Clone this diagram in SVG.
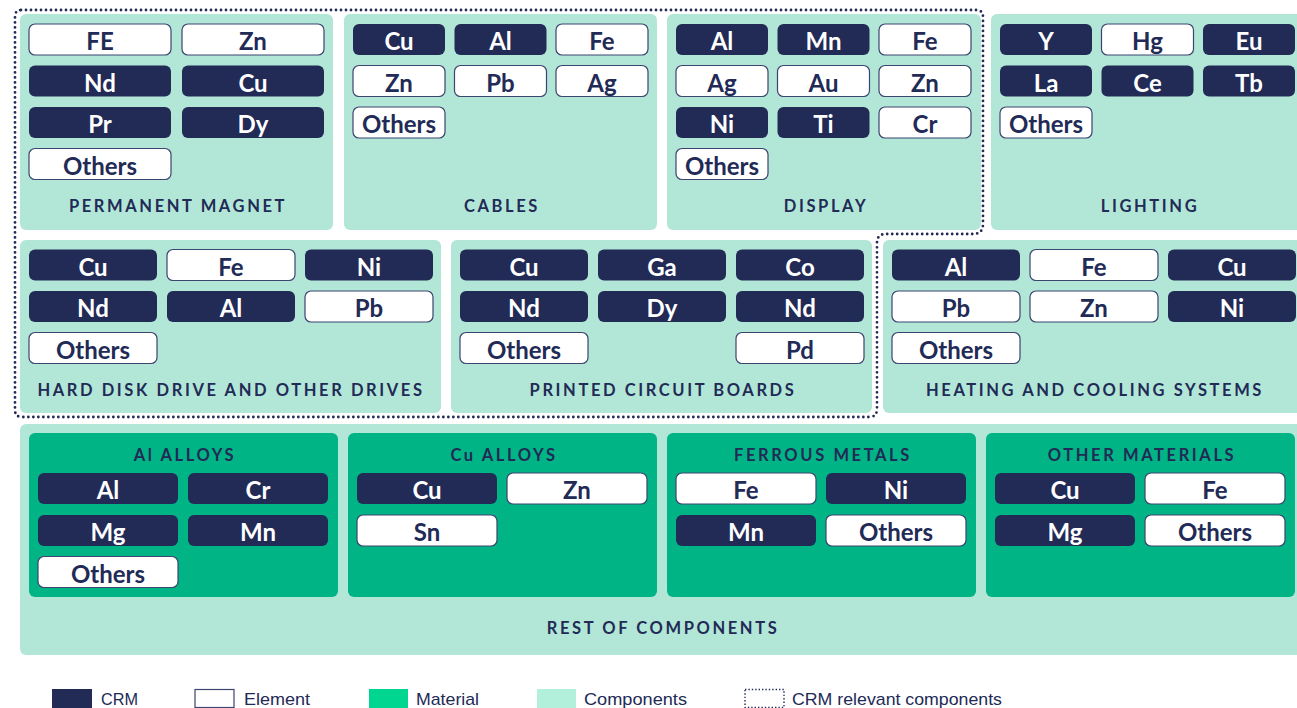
<svg xmlns="http://www.w3.org/2000/svg" width="1297" height="708" viewBox="0 0 1297 708">
  <style>
    .panel { fill: #b2e7d7; }
    .mat { fill: #00b485; }
    .crm { fill: #222a56; }
    .el { fill: #ffffff; stroke: #3c4470; stroke-width: 1.2; }
    .tc { font-family: Lato, "Liberation Sans", sans-serif; font-weight: 700; font-size: 24px; text-anchor: middle; fill: #ffffff; }
    .te { font-family: Lato, "Liberation Sans", sans-serif; font-weight: 700; font-size: 24px; text-anchor: middle; fill: #222a56; }
    .lbl { font-family: Lato, "Liberation Sans", sans-serif; font-weight: 700; font-size: 16.5px; letter-spacing: 2.6px; text-anchor: middle; fill: #222a56; }
    .leg { font-family: "Liberation Sans", sans-serif; font-size: 17px; fill: #222a56; }
    .dots { fill: none; stroke: #222a56; stroke-width: 2.8; stroke-linecap: round; stroke-dasharray: 0 5; }
  </style>

  <rect width="1297" height="708" fill="#ffffff"/>

  <!-- Row 1 components -->
  <g id="permanent-magnet">
    <rect class="panel" x="20" y="14" width="313" height="216" rx="6"/>
    <rect class="el" x="29" y="24" width="142" height="31" rx="6"/><text class="te" x="100" y="50">FE</text>
    <rect class="el" x="182" y="24" width="142" height="31" rx="6"/><text class="te" x="253" y="50">Zn</text>
    <rect class="crm" x="29" y="65.5" width="142" height="31" rx="6"/><text class="tc" x="100" y="91.5">Nd</text>
    <rect class="crm" x="182" y="65.5" width="142" height="31" rx="6"/><text class="tc" x="253" y="91.5">Cu</text>
    <rect class="crm" x="29" y="107" width="142" height="31" rx="6"/><text class="tc" x="100" y="133">Pr</text>
    <rect class="crm" x="182" y="107" width="142" height="31" rx="6"/><text class="tc" x="253" y="133">Dy</text>
    <rect class="el" x="29" y="148.5" width="142" height="31" rx="6"/><text class="te" x="100" y="174.5">Others</text>
    <text class="lbl" x="178" y="212">PERMANENT MAGNET</text>
  </g>

  <g id="cables">
    <rect class="panel" x="344" y="14" width="313" height="216" rx="6"/>
    <rect class="crm" x="353" y="24" width="92" height="31" rx="6"/><text class="tc" x="399" y="50">Cu</text>
    <rect class="crm" x="454.5" y="24" width="92" height="31" rx="6"/><text class="tc" x="500.5" y="50">Al</text>
    <rect class="el" x="556" y="24" width="92" height="31" rx="6"/><text class="te" x="602" y="50">Fe</text>
    <rect class="el" x="353" y="65.5" width="92" height="31" rx="6"/><text class="te" x="399" y="91.5">Zn</text>
    <rect class="el" x="454.5" y="65.5" width="92" height="31" rx="6"/><text class="te" x="500.5" y="91.5">Pb</text>
    <rect class="el" x="556" y="65.5" width="92" height="31" rx="6"/><text class="te" x="602" y="91.5">Ag</text>
    <rect class="el" x="353" y="107" width="92" height="31" rx="6"/><text class="te" x="399" y="133">Others</text>
    <text class="lbl" x="502" y="212">CABLES</text>
  </g>

  <g id="display">
    <rect class="panel" x="667" y="14" width="314" height="216" rx="6"/>
    <rect class="crm" x="676" y="24" width="92" height="31" rx="6"/><text class="tc" x="722" y="50">Al</text>
    <rect class="crm" x="777.5" y="24" width="92" height="31" rx="6"/><text class="tc" x="823.5" y="50">Mn</text>
    <rect class="el" x="879" y="24" width="92" height="31" rx="6"/><text class="te" x="925" y="50">Fe</text>
    <rect class="el" x="676" y="65.5" width="92" height="31" rx="6"/><text class="te" x="722" y="91.5">Ag</text>
    <rect class="el" x="777.5" y="65.5" width="92" height="31" rx="6"/><text class="te" x="823.5" y="91.5">Au</text>
    <rect class="el" x="879" y="65.5" width="92" height="31" rx="6"/><text class="te" x="925" y="91.5">Zn</text>
    <rect class="crm" x="676" y="107" width="92" height="31" rx="6"/><text class="tc" x="722" y="133">Ni</text>
    <rect class="crm" x="777.5" y="107" width="92" height="31" rx="6"/><text class="tc" x="823.5" y="133">Ti</text>
    <rect class="el" x="879" y="107" width="92" height="31" rx="6"/><text class="te" x="925" y="133">Cr</text>
    <rect class="el" x="676" y="148.5" width="92" height="31" rx="6"/><text class="te" x="722" y="174.5">Others</text>
    <text class="lbl" x="826" y="212">DISPLAY</text>
  </g>

  <g id="lighting">
    <rect class="panel" x="991" y="14" width="314" height="216" rx="6"/>
    <rect class="crm" x="1000" y="24" width="92" height="31" rx="6"/><text class="tc" x="1046" y="50">Y</text>
    <rect class="el" x="1101.5" y="24" width="92" height="31" rx="6"/><text class="te" x="1147.5" y="50">Hg</text>
    <rect class="crm" x="1203" y="24" width="92" height="31" rx="6"/><text class="tc" x="1249" y="50">Eu</text>
    <rect class="crm" x="1000" y="65.5" width="92" height="31" rx="6"/><text class="tc" x="1046" y="91.5">La</text>
    <rect class="crm" x="1101.5" y="65.5" width="92" height="31" rx="6"/><text class="tc" x="1147.5" y="91.5">Ce</text>
    <rect class="crm" x="1203" y="65.5" width="92" height="31" rx="6"/><text class="tc" x="1249" y="91.5">Tb</text>
    <rect class="el" x="1000" y="107" width="92" height="31" rx="6"/><text class="te" x="1046" y="133">Others</text>
    <text class="lbl" x="1150" y="212">LIGHTING</text>
  </g>

  <!-- Row 2 components -->
  <g id="hard-disk-drive">
    <rect class="panel" x="20" y="240" width="421" height="173" rx="6"/>
    <rect class="crm" x="29" y="249.5" width="128" height="31" rx="6"/><text class="tc" x="93" y="275.5">Cu</text>
    <rect class="el" x="167" y="249.5" width="128" height="31" rx="6"/><text class="te" x="231" y="275.5">Fe</text>
    <rect class="crm" x="305" y="249.5" width="128" height="31" rx="6"/><text class="tc" x="369" y="275.5">Ni</text>
    <rect class="crm" x="29" y="291" width="128" height="31" rx="6"/><text class="tc" x="93" y="317">Nd</text>
    <rect class="crm" x="167" y="291" width="128" height="31" rx="6"/><text class="tc" x="231" y="317">Al</text>
    <rect class="el" x="305" y="291" width="128" height="31" rx="6"/><text class="te" x="369" y="317">Pb</text>
    <rect class="el" x="29" y="332.5" width="128" height="31" rx="6"/><text class="te" x="93" y="358.5">Others</text>
    <text class="lbl" x="231" y="396">HARD DISK DRIVE AND OTHER DRIVES</text>
  </g>

  <g id="printed-circuit-boards">
    <rect class="panel" x="451" y="240" width="421" height="173" rx="6"/>
    <rect class="crm" x="460" y="249.5" width="128" height="31" rx="6"/><text class="tc" x="524" y="275.5">Cu</text>
    <rect class="crm" x="598" y="249.5" width="128" height="31" rx="6"/><text class="tc" x="662" y="275.5">Ga</text>
    <rect class="crm" x="736" y="249.5" width="128" height="31" rx="6"/><text class="tc" x="800" y="275.5">Co</text>
    <rect class="crm" x="460" y="291" width="128" height="31" rx="6"/><text class="tc" x="524" y="317">Nd</text>
    <rect class="crm" x="598" y="291" width="128" height="31" rx="6"/><text class="tc" x="662" y="317">Dy</text>
    <rect class="crm" x="736" y="291" width="128" height="31" rx="6"/><text class="tc" x="800" y="317">Nd</text>
    <rect class="el" x="460" y="332.5" width="128" height="31" rx="6"/><text class="te" x="524" y="358.5">Others</text>
    <rect class="el" x="736" y="332.5" width="128" height="31" rx="6"/><text class="te" x="800" y="358.5">Pd</text>
    <text class="lbl" x="663" y="396">PRINTED CIRCUIT BOARDS</text>
  </g>

  <g id="heating-cooling">
    <rect class="panel" x="883" y="240" width="422" height="173" rx="6"/>
    <rect class="crm" x="892" y="249.5" width="128" height="31" rx="6"/><text class="tc" x="956" y="275.5">Al</text>
    <rect class="el" x="1030" y="249.5" width="128" height="31" rx="6"/><text class="te" x="1094" y="275.5">Fe</text>
    <rect class="crm" x="1168" y="249.5" width="128" height="31" rx="6"/><text class="tc" x="1232" y="275.5">Cu</text>
    <rect class="el" x="892" y="291" width="128" height="31" rx="6"/><text class="te" x="956" y="317">Pb</text>
    <rect class="el" x="1030" y="291" width="128" height="31" rx="6"/><text class="te" x="1094" y="317">Zn</text>
    <rect class="crm" x="1168" y="291" width="128" height="31" rx="6"/><text class="tc" x="1232" y="317">Ni</text>
    <rect class="el" x="892" y="332.5" width="128" height="31" rx="6"/><text class="te" x="956" y="358.5">Others</text>
    <text class="lbl" x="1095" y="396">HEATING AND COOLING SYSTEMS</text>
  </g>

  <!-- Row 3: rest of components with material groups -->
  <g id="rest-of-components">
    <rect class="panel" x="20" y="424" width="1285" height="231" rx="6"/>
    <text class="lbl" x="663" y="634">REST OF COMPONENTS</text>
  </g>

  <g id="al-alloys">
    <rect class="mat" x="29" y="433" width="309" height="164" rx="6"/>
    <text class="lbl" x="185" y="461">Al ALLOYS</text>
    <rect class="crm" x="38" y="473" width="140" height="31" rx="6"/><text class="tc" x="108" y="499">Al</text>
    <rect class="crm" x="188" y="473" width="140" height="31" rx="6"/><text class="tc" x="258" y="499">Cr</text>
    <rect class="crm" x="38" y="515" width="140" height="31" rx="6"/><text class="tc" x="108" y="541">Mg</text>
    <rect class="crm" x="188" y="515" width="140" height="31" rx="6"/><text class="tc" x="258" y="541">Mn</text>
    <rect class="el" x="38" y="556.5" width="140" height="31" rx="6"/><text class="te" x="108" y="582.5">Others</text>
  </g>

  <g id="cu-alloys">
    <rect class="mat" x="348" y="433" width="309" height="164" rx="6"/>
    <text class="lbl" x="504" y="461">Cu ALLOYS</text>
    <rect class="crm" x="357" y="473" width="140" height="31" rx="6"/><text class="tc" x="427" y="499">Cu</text>
    <rect class="el" x="507" y="473" width="140" height="31" rx="6"/><text class="te" x="577" y="499">Zn</text>
    <rect class="el" x="357" y="515" width="140" height="31" rx="6"/><text class="te" x="427" y="541">Sn</text>
  </g>

  <g id="ferrous-metals">
    <rect class="mat" x="667" y="433" width="309" height="164" rx="6"/>
    <text class="lbl" x="823" y="461">FERROUS METALS</text>
    <rect class="el" x="676" y="473" width="140" height="31" rx="6"/><text class="te" x="746" y="499">Fe</text>
    <rect class="crm" x="826" y="473" width="140" height="31" rx="6"/><text class="tc" x="896" y="499">Ni</text>
    <rect class="crm" x="676" y="515" width="140" height="31" rx="6"/><text class="tc" x="746" y="541">Mn</text>
    <rect class="el" x="826" y="515" width="140" height="31" rx="6"/><text class="te" x="896" y="541">Others</text>
  </g>

  <g id="other-materials">
    <rect class="mat" x="986" y="433" width="309" height="164" rx="6"/>
    <text class="lbl" x="1142" y="461">OTHER MATERIALS</text>
    <rect class="crm" x="995" y="473" width="140" height="31" rx="6"/><text class="tc" x="1065" y="499">Cu</text>
    <rect class="el" x="1145" y="473" width="140" height="31" rx="6"/><text class="te" x="1215" y="499">Fe</text>
    <rect class="crm" x="995" y="515" width="140" height="31" rx="6"/><text class="tc" x="1065" y="541">Mg</text>
    <rect class="el" x="1145" y="515" width="140" height="31" rx="6"/><text class="te" x="1215" y="541">Others</text>
  </g>

  <!-- Dotted outline around the CRM relevant components -->
  <g id="connectors">
    <path class="dots" d="M 21,10 H 976 Q 983,10 983,17 V 224 Q 983,234 973,234 H 886 Q 877,234 877,243 V 409 Q 877,417 869,417 H 22 Q 15,417 15,410 V 17 Q 15,10 21,10 Z"/>
  </g>

  <!-- Legend -->
  <g id="legend">
    <rect class="crm" x="52" y="689" width="40" height="19"/>
    <text class="leg" x="101" y="705" textLength="37" lengthAdjust="spacingAndGlyphs">CRM</text>
    <rect class="el" x="195" y="689.5" width="39" height="18"/>
    <text class="leg" x="244" y="705" textLength="66" lengthAdjust="spacingAndGlyphs">Element</text>
    <rect x="369" y="689" width="39" height="19" fill="#00d68f"/>
    <text class="leg" x="416" y="705" textLength="63" lengthAdjust="spacingAndGlyphs">Material</text>
    <rect x="537" y="689" width="39" height="19" fill="#b3f0dc"/>
    <text class="leg" x="584" y="705" textLength="103" lengthAdjust="spacingAndGlyphs">Components</text>
    <rect x="745" y="689.5" width="39" height="18" fill="none" stroke="#222a56" stroke-width="1.4" stroke-dasharray="1.4 2"/>
    <text class="leg" x="792" y="705" textLength="210" lengthAdjust="spacingAndGlyphs">CRM relevant components</text>
  </g>
</svg>
